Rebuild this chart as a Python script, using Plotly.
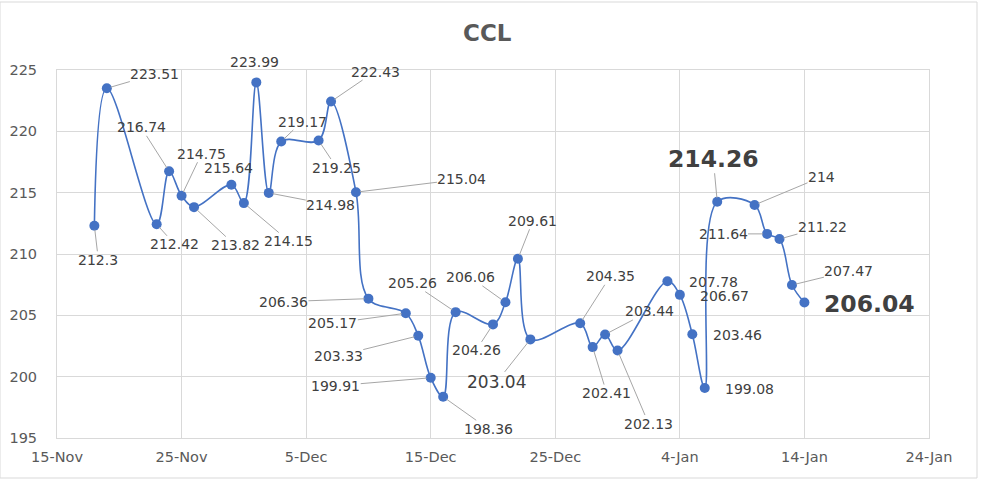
import plotly.graph_objects as go

# ---- data ----
dates = [
    "2021-11-18", "2021-11-19", "2021-11-23", "2021-11-24", "2021-11-25", "2021-11-26",
    "2021-11-29", "2021-11-30", "2021-12-01", "2021-12-02", "2021-12-03", "2021-12-06",
    "2021-12-07", "2021-12-09", "2021-12-10", "2021-12-13", "2021-12-14", "2021-12-15",
    "2021-12-16", "2021-12-17", "2021-12-20", "2021-12-21", "2021-12-22", "2021-12-23",
    "2021-12-27", "2021-12-28", "2021-12-29", "2021-12-30", "2022-01-03", "2022-01-04",
    "2022-01-05", "2022-01-06", "2022-01-07", "2022-01-10", "2022-01-11", "2022-01-12",
    "2022-01-13", "2022-01-14",
]
values = [
    212.30, 223.51, 212.42, 216.74, 214.75, 213.82,
    215.64, 214.15, 223.99, 214.98, 219.17, 219.25,
    222.43, 215.04, 206.36, 205.17, 203.33, 199.91,
    198.36, 205.26, 204.26, 206.06, 209.61, 203.04,
    204.35, 202.41, 203.44, 202.13, 207.78, 206.67,
    203.46, 199.08, 214.26, 214.00, 211.64, 211.22,
    207.47, 206.04,
]
labels = [
    "212.3", "223.51", "212.42", "216.74", "214.75", "213.82",
    "215.64", "214.15", "223.99", "214.98", "219.17", "219.25",
    "222.43", "215.04", "206.36", "205.17", "203.33", "199.91",
    "198.36", "205.26", "204.26", "206.06", "209.61", "203.04",
    "204.35", "202.41", "203.44", "202.13", "207.78", "206.67",
    "203.46", "199.08", "214.26", "214", "211.64", "211.22",
    "207.47", "206.04",
]
y_ticks = [195, 200, 205, 210, 215, 220, 225]
x_range = ["2021-11-15", "2022-01-24"]

# ---- label placement (pixel offsets, leader visible?) ----
offsets = [
    (4, 34, True), (48, -14, True), (18, 20, True), (-28, -44, True), (20, -42, True), (41, 38, True),
    (-3, -17, False), (45, 38, True), (-2, -20, False), (62, 12, True), (21, -20, True), (18, 27, True),
    (44, -30, True), (106, -13, True), (-85, 3, True), (-73, 10, True), (-80, 20, True), (-95, 8, True),
    (45, 32, True), (-43, -29, True), (-17, 26, True), (-35, -25, True), (15, -38, True), (-34, 43, True),
    (30, -47, True), (14, 46, True), (44, -23, True), (31, 73, True), (46, 1, False), (45, 1, False),
    (45, 1, False), (45, 1, False), (-4, -43, True), (67, -28, True), (-44, 0, True), (43, -12, True),
    (57, -14, True), (65, 1, False),
]
big_bold = {"214.26", "206.04"}
medium = {"203.04"}

BLUE = "#4472C4"
TXT = "#404040"
GRID = "#d9d9d9"

fig = go.Figure()
fig.add_trace(go.Scatter(
    x=dates, y=values, mode="lines+markers",
    line=dict(color=BLUE, width=1.6, shape="spline", smoothing=1.0),
    marker=dict(color=BLUE, size=10),
    hoverinfo="x+y", showlegend=False,
))

annotations = []
for d, v, lab, (ax, ay, lead) in zip(dates, values, labels, offsets):
    if lab in big_bold:
        font = dict(family="DejaVu Sans", size=23.5, color=TXT, weight="bold")
    elif lab in medium:
        font = dict(family="DejaVu Sans", size=17, color=TXT)
    else:
        font = dict(family="DejaVu Sans", size=14, color=TXT)
    annotations.append(dict(
        x=d, y=v, xref="x", yref="y", text=lab, font=font,
        showarrow=True, ax=ax, ay=ay, axref="pixel", ayref="pixel",
        arrowhead=0, arrowwidth=1,
        arrowcolor="#a6a6a6" if lead else "rgba(0,0,0,0)",
        standoff=4, borderpad=0,
    ))

annotations.append(dict(
    text="CCL", x=(487 - 57) / 872, y=(438 - 33) / 368, xref="paper", yref="paper",
    xanchor="center", yanchor="middle", showarrow=False,
    font=dict(family="DejaVu Sans", size=23, color="#595959", weight="bold"),
))

fig.update_layout(
    width=981, height=480,
    margin=dict(l=57, r=52, t=70, b=42),
    paper_bgcolor="white", plot_bgcolor="white",
    annotations=annotations,
    xaxis=dict(
        type="date", range=x_range, tick0=x_range[0], dtick=10 * 86400000,
        tickformat="%-d-%b", showgrid=True, gridcolor=GRID, gridwidth=1,
        showline=True, linecolor=GRID, linewidth=1, mirror=True,
        zeroline=False, ticks="", ticklen=0, ticklabelstandoff=6, automargin=False,
        tickfont=dict(family="DejaVu Sans", size=14.5, color="#595959"),
    ),
    yaxis=dict(
        range=[195, 225], tickvals=y_ticks, ticktext=[str(t) for t in y_ticks],
        showgrid=True, gridcolor=GRID, gridwidth=1,
        showline=True, linecolor=GRID, linewidth=1, mirror=True,
        zeroline=False, ticks="", ticklabelstandoff=16, automargin=False,
        tickfont=dict(family="DejaVu Sans", size=14.5, color="#595959"),
    ),
    shapes=[dict(type="rect", xref="paper", yref="paper",
                 x0=-57 / 872, x1=(977 - 57) / 872, y0=-(478 - 438) / 368, y1=(438 - 2) / 368,
                 line=dict(color=GRID, width=1), layer="below")],
)

fig.write_html("out.html")
